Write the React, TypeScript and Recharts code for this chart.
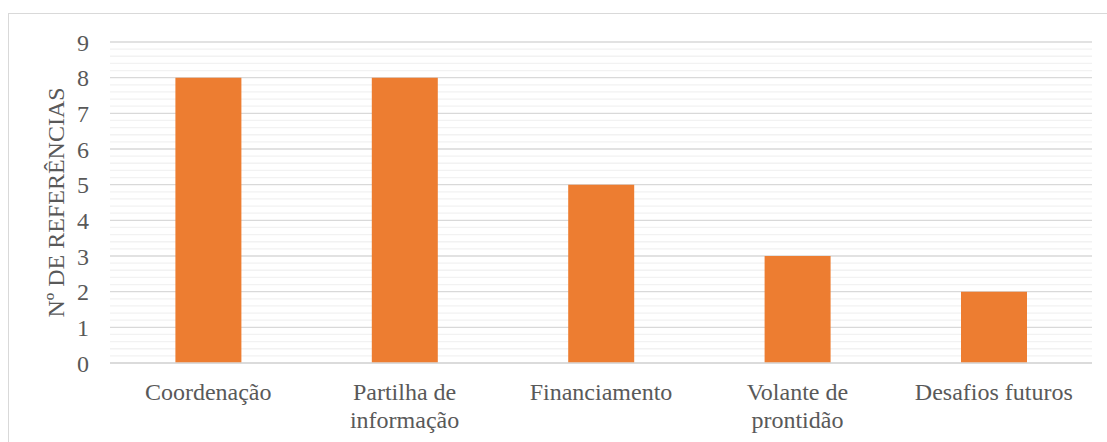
import React from 'react';
import { BarChart, Bar, XAxis, YAxis, CartesianGrid } from 'recharts';

const categories = [
  'Coordenação',
  'Partilha de\ninformação',
  'Financiamento',
  'Volante de\nprontidão',
  'Desafios futuros',
];
const referencias = [8, 8, 5, 3, 2];
const majorTicks = [0, 1, 2, 3, 4, 5, 6, 7, 8, 9];
const minorTicks = [
  0.2, 0.4, 0.6, 0.8, 1.2, 1.4, 1.6, 1.8, 2.2, 2.4, 2.6, 2.8, 3.2, 3.4, 3.6, 3.8,
  4.2, 4.4, 4.6, 4.8, 5.2, 5.4, 5.6, 5.8, 6.2, 6.4, 6.6, 6.8, 7.2, 7.4, 7.6, 7.8,
  8.2, 8.4, 8.6, 8.8,
];
const yLabel = 'Nº DE REFERÊNCIAS';

const data = categories.map((name, i) => ({ name, value: referencias[i] }));

const FONT = '"Liberation Serif", "Times New Roman", Times, serif';
const TEXT = '#595959';

// recharts 3 hands the grid either a plain d3 scale or a wrapper with map()
function scaleY(axis: any, v: number): number {
  const s = axis?.scale;
  if (typeof s === 'function') return s(v);
  if (s && typeof s.map === 'function') return s.map(v);
  return NaN;
}

function CategoryTick(props: any) {
  const { x, y, payload } = props;
  const lines = String(payload.value).split('\n');
  return (
    <text x={x} y={y} textAnchor="middle" fill={TEXT} style={{ fontSize: 24, fontFamily: FONT }}>
      {lines.map((line, i) => (
        <tspan key={i} x={x} dy={i === 0 ? 37 : 27.5}>
          {line}
        </tspan>
      ))}
    </text>
  );
}

export default function App() {
  return (
    <div
      style={{
        position: 'fixed',
        left: 0,
        top: 0,
        width: 1107,
        height: 442,
        overflow: 'hidden',
        background: '#fff',
        fontFamily: FONT,
      }}
    >
      <div
        style={{
          position: 'absolute',
          left: 8,
          top: 13,
          width: 1200,
          height: 500,
          border: '1px solid #d9d9d9',
        }}
      />
      <div style={{ position: 'absolute', left: 0, top: 0 }}>
        <BarChart
          width={1107}
          height={442}
          data={data}
          margin={{ top: 42, right: 15, bottom: 49, left: 34 }}
          barCategoryGap="33.3%"
          style={{ fontFamily: FONT }}
        >
          <CartesianGrid
            vertical={false}
            stroke="#f2f2f2"
            strokeWidth={1.3}
            horizontalCoordinatesGenerator={({ yAxis }: any) =>
              minorTicks.map((v) => scaleY(yAxis, v)).filter((p) => Number.isFinite(p))
            }
          />
          <CartesianGrid vertical={false} stroke="#d9d9d9" strokeWidth={1.3} />
          <XAxis
            dataKey="name"
            axisLine={{ stroke: '#d9d9d9', strokeWidth: 1.3 }}
            tickLine={false}
            tickSize={0}
            tickMargin={0}
            interval={0}
            tick={<CategoryTick />}
          />
          <YAxis
            domain={[0, 9]}
            ticks={majorTicks}
            interval={0}
            width={76}
            axisLine={false}
            tickLine={false}
            tickSize={0}
            tickMargin={21}
            tick={{ fill: TEXT, fontSize: 24, style: { fontFamily: FONT } }}
            label={{
              value: yLabel,
              angle: -90,
              position: 'insideLeft',
              offset: 21,
              style: { textAnchor: 'middle', fill: TEXT, fontSize: 24, fontFamily: FONT },
            }}
          />
          <Bar dataKey="value" fill="#ED7D31" isAnimationActive={false} />
        </BarChart>
      </div>
    </div>
  );
}
